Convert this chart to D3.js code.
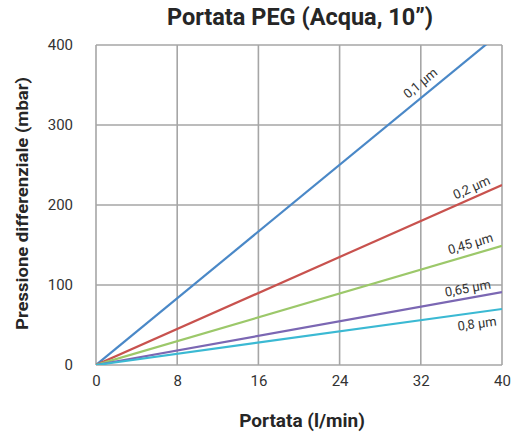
<!DOCTYPE html>
<html><head><meta charset="utf-8">
<script src="https://cdn.jsdelivr.net/npm/d3@7"></script>
<style>body{margin:0;background:#fff;}svg{display:block;font-family:Roboto,"Noto Sans",sans-serif;}</style>
</head><body>
<svg id="c" width="517" height="434"></svg>
<script>
const xTicks = [0, 8, 16, 24, 32, 40];
const yTicks = [0, 100, 200, 300, 400];
const seriesNames = ["0,1 µm", "0,2 µm", "0,45 µm", "0,65 µm", "0,8 µm"];
const seriesColors = ["#4a88c7", "#c8524e", "#9cc86a", "#7b67b3", "#3bb9d3"];
// pressure drop at 0 and 40 l/min (mbar)
const seriesStart = [0, 0, 0, 0, 0];
const seriesEnd = [417, 225, 149, 91, 70];
const labelAt = [32.7, 37.4, 37.2, 36.8, 37.4];
const labelOffset = [12, 10, 11, 10, -11];

const svg = d3.select("#c");
const m = {l: 96, r: 502, t: 45, b: 365};
const x = d3.scaleLinear().domain([0, 40]).range([m.l, m.r]);
const y = d3.scaleLinear().domain([0, 400]).range([m.b, m.t]);

// grid
const g = svg.append("g");
g.selectAll(".vx").data(xTicks).join("line")
  .attr("x1", d => x(d)).attr("x2", d => x(d)).attr("y1", m.t).attr("y2", m.b)
  .attr("stroke", "#a6a6a6").attr("stroke-width", 1.6);
g.selectAll(".hy").data(yTicks).join("line")
  .attr("y1", d => y(d)).attr("y2", d => y(d)).attr("x1", m.l).attr("x2", m.r)
  .attr("stroke", "#a6a6a6").attr("stroke-width", 1.6);

// axes labels
const xAxis = d3.axisBottom(x).tickValues(xTicks).tickSize(0).tickPadding(10);
const ax = svg.append("g").attr("transform", `translate(0,${m.b})`).call(xAxis);
ax.select(".domain").remove();
ax.selectAll("text").attr("font-size", 15).attr("fill", "#333").attr("font-family", "Roboto, sans-serif");
const yAxis = d3.axisLeft(y).tickValues(yTicks).tickSize(0).tickPadding(23);
const ay = svg.append("g").attr("transform", `translate(${m.l},0)`).call(yAxis);
ay.select(".domain").remove();
ay.selectAll("text").attr("font-size", 15).attr("fill", "#333").attr("font-family", "Roboto, sans-serif");

// clip
svg.append("clipPath").attr("id", "clp").append("rect")
  .attr("x", m.l).attr("y", m.t).attr("width", m.r - m.l).attr("height", m.b - m.t);

const line = d3.line().x(d => x(d[0])).y(d => y(d[1]));
seriesNames.forEach((name, i) => {
  const pts = [[0, seriesStart[i]], [40, seriesEnd[i]]];
  svg.append("path").datum(pts).attr("d", line).attr("fill", "none")
    .attr("stroke", seriesColors[i]).attr("stroke-width", 2.2)
    .attr("clip-path", "url(#clp)");
  const slope = (seriesEnd[i] - seriesStart[i]) / 40;
  const lx = labelAt[i];
  const px = x(lx), py = y(seriesStart[i] + slope * lx);
  const dx = x(lx + 1) - x(lx), dy = y(seriesStart[i] + slope * (lx + 1)) - y(seriesStart[i] + slope * lx);
  const ang = Math.atan2(dy, dx);
  const nx = Math.sin(ang), ny = -Math.cos(ang);
  const off = labelOffset[i];
  svg.append("text").text(name)
    .attr("transform", `translate(${px + nx * off},${py + ny * off}) rotate(${ang * 180 / Math.PI})`)
    .attr("text-anchor", "middle").attr("dominant-baseline", "central")
    .attr("font-size", 13).attr("fill", "#333");
});

svg.append("text").text("Portata PEG (Acqua, 10”)")
  .attr("x", 300).attr("y", 25).attr("text-anchor", "middle")
  .attr("font-size", 23.5).attr("font-weight", "bold").attr("fill", "#262626");
svg.append("text").text("Portata (l/min)")
  .attr("x", 302).attr("y", 427).attr("text-anchor", "middle")
  .attr("font-size", 19).attr("font-weight", "bold").attr("fill", "#262626");
svg.append("text").text("Pressione differenziale (mbar)")
  .attr("transform", "translate(28,203.5) rotate(-90)").attr("text-anchor", "middle")
  .attr("font-size", 17).attr("textLength", 253).attr("lengthAdjust", "spacingAndGlyphs")
  .attr("font-weight", "bold").attr("fill", "#262626");
</script>
</body></html>
